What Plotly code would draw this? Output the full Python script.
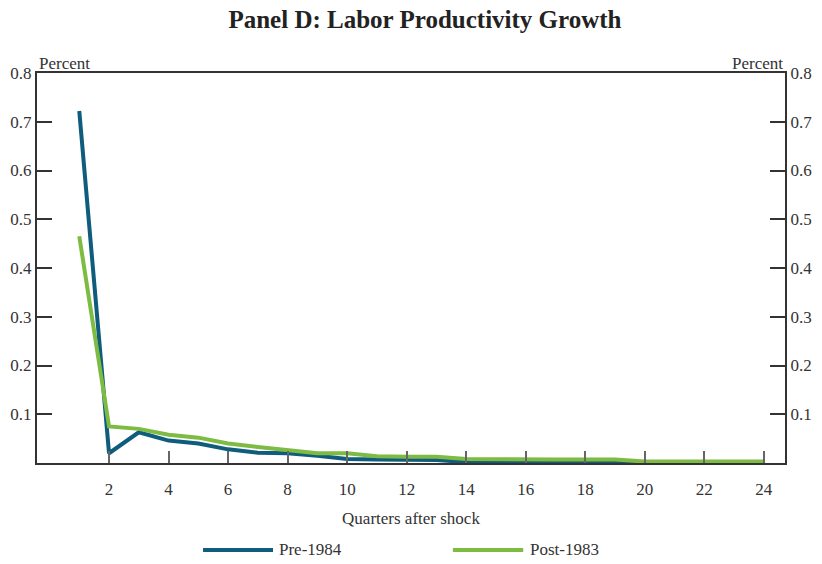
"""Panel D: Labor Productivity Growth — impulse responses by period."""

import plotly.graph_objects as go

# データ
quarters = list(range(1, 25))
pre_1984 = [0.722, 0.020, 0.063, 0.046, 0.040, 0.028, 0.021, 0.020, 0.015, 0.008,
            0.007, 0.007, 0.006, 0.002, 0.001, 0.001, 0.001, 0.001, 0.001, 0.001,
            0.001, 0.001, 0.001, 0.001]
post_1983 = [0.465, 0.075, 0.070, 0.058, 0.052, 0.040, 0.033, 0.026, 0.020, 0.020,
             0.014, 0.013, 0.013, 0.008, 0.007, 0.007, 0.007, 0.007, 0.007, 0.003,
             0.003, 0.003, 0.003, 0.003]
x_ticks = list(range(2, 25, 2))
y_ticks = [0.1, 0.2, 0.3, 0.4, 0.5, 0.6, 0.7, 0.8]

PRE_COLOR = "#0f5c7d"
POST_COLOR = "#7dbb42"
FONT = "Liberation Serif, DejaVu Serif, serif"

fig = go.Figure()
fig.add_trace(go.Scatter(x=quarters, y=pre_1984, mode="lines", name="Pre-1984",
                         line=dict(color=PRE_COLOR, width=4)))
fig.add_trace(go.Scatter(x=quarters, y=post_1983, mode="lines", name="Post-1983",
                         line=dict(color=POST_COLOR, width=4)))
# 右軸用のダミー
fig.add_trace(go.Scatter(x=quarters, y=post_1983, yaxis="y2", mode="lines",
                         line=dict(width=0), opacity=0, showlegend=False,
                         hoverinfo="skip"))

axis_common = dict(range=[0, 0.8], tickvals=y_ticks, ticks="inside", ticklen=15,
                   tickwidth=1.5, tickcolor="#333", showline=True, linecolor="#333",
                   linewidth=2, showgrid=False, zeroline=False,
                   tickfont=dict(size=17, color="#333", family=FONT))

fig.update_layout(
    width=822, height=564,
    margin=dict(l=37, r=37, t=73, b=101, autoexpand=False),
    plot_bgcolor="white", paper_bgcolor="white",
    font=dict(family=FONT, color="#333"),
    showlegend=False,
    title=dict(text="<b>Panel D: Labor Productivity Growth</b>", x=0.517, xanchor="center",
               y=0.966, yanchor="middle", font=dict(size=25, color="#222", family=FONT)),
    xaxis=dict(range=[-0.42, 24.71], tickvals=x_ticks, ticks="inside", ticklen=12,
               tickwidth=1.5, tickcolor="#666", showline=True, linecolor="#333",
               linewidth=2, mirror=True, showgrid=False, zeroline=False,
               ticklabelstandoff=10,
               tickfont=dict(size=17, color="#333", family=FONT),
               title=dict(text="Quarters after shock", standoff=14,
                          font=dict(size=17, color="#333", family=FONT))),
    yaxis=dict(**axis_common),
    yaxis2=dict(**axis_common, overlaying="y", side="right", matches="y"),
)

annotations = [
    dict(text="Percent", x=0, xanchor="left", y=1.025, yanchor="middle"),
    dict(text="Percent", x=1, xanchor="right", y=1.025, yanchor="middle"),
    dict(text="Pre-1984", x=0.321, xanchor="left", y=-0.223, yanchor="middle"),
    dict(text="Post-1983", x=0.656, xanchor="left", y=-0.223, yanchor="middle"),
]
for a in annotations:
    fig.add_annotation(**a, xref="paper", yref="paper", showarrow=False,
                       font=dict(size=17, color="#333", family=FONT))

# 凡例の線
for x0, x1, color in [(0.222, 0.3155, PRE_COLOR), (0.556, 0.650, POST_COLOR)]:
    fig.add_shape(type="line", xref="paper", yref="paper", x0=x0, x1=x1,
                  y0=-0.223, y1=-0.223, line=dict(color=color, width=4))

# ページ余白をなくす
fig.write_html("out.html", config={"displayModeBar": False},
               post_script="document.body.style.margin='0';")
